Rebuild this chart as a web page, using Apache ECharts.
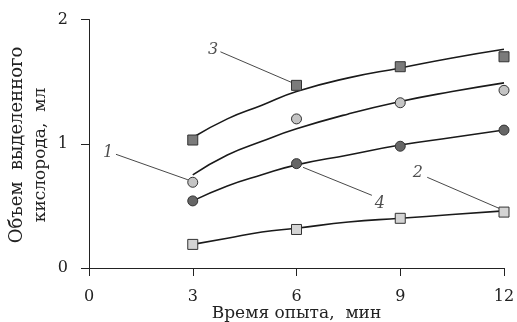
<!DOCTYPE html>
<html><head><meta charset="utf-8">
<script src="https://cdn.jsdelivr.net/npm/echarts@6/dist/echarts.min.js"></script>
<style>html,body{margin:0;padding:0;background:#fff}#c{width:517px;height:322px}</style>
</head><body><div id="c"></div>
<script>
// Measured points (time, min) and oxygen volumes (ml)
var times = [3, 6, 9, 12];
var s1Points = [0.69, 1.20, 1.33, 1.43];
var s2Points = [0.19, 0.31, 0.40, 0.45];
var s3Points = [1.03, 1.47, 1.62, 1.70];
var s4Points = [0.54, 0.84, 0.98, 1.11];
// Fitted curves
var curveX = [3, 4, 5, 6, 7.5, 9, 10.5, 12];
var c1 = [0.75, 0.91, 1.02, 1.12, 1.24, 1.34, 1.42, 1.49];
var c2 = [0.19, 0.24, 0.29, 0.32, 0.37, 0.40, 0.43, 0.46];
var c3 = [1.05, 1.20, 1.31, 1.42, 1.53, 1.61, 1.69, 1.76];
var c4 = [0.54, 0.66, 0.75, 0.83, 0.91, 0.99, 1.05, 1.11];
// Curve labels: name, label position, leader start, leader end (data coords)
var labelNames = ['1', '2', '3', '4'];
var labelPos = [[0.55, 0.93], [9.51, 0.765], [3.59, 1.755], [8.41, 0.52]];
var leaderFrom = [[0.78, 0.915], [9.78, 0.73], [3.80, 1.74], [6.19, 0.81]];
var leaderTo = [[2.86, 0.71], [11.86, 0.48], [5.93, 1.485], [8.18, 0.585]];
var xTicks = [0, 3, 6, 9, 12];
var yTicks = [0, 1, 2];

var FONT = 'DejaVu Serif';
function zip(xs, ys){ return xs.map(function(x,i){ return [x, ys[i]]; }); }
function curve(ys){
  return {type:'line', data: zip(curveX, ys), smooth: true, showSymbol:false, symbol:'none',
    lineStyle:{color:'#1a1a1a', width:1.6}, z:2, silent:true};
}
function pts(ys, sym, fill, size){
  return {type:'scatter', data: zip(times, ys), symbol: sym, symbolSize: size,
    itemStyle:{color: fill, borderColor:'#333', borderWidth:1, opacity:1}, z:5, silent:true};
}
var series = [curve(c1), curve(c2), curve(c3), curve(c4),
  pts(s3Points, 'rect', '#7b7b7b', 10),
  pts(s2Points, 'rect', '#d4d4d4', 10),
  pts(s1Points, 'circle', '#c4c4c4', 10),
  pts(s4Points, 'circle', '#666666', 10)];
labelNames.forEach(function(n, i){
  series.push({type:'line', data:[leaderFrom[i], leaderTo[i]], symbol:'none',
    lineStyle:{color:'#333', width:0.9}, z:3, silent:true});
});
series.push({type:'scatter', symbolSize:0, z:6, silent:true,
  data: labelNames.map(function(n,i){ return {name:n, value:labelPos[i]}; }),
  label:{show:true, position:'inside', formatter:'{b}', fontFamily:FONT, fontStyle:'italic',
    fontSize:16, color:'#222'}});

var chart = echarts.init(document.getElementById('c'), null, {renderer:'canvas'});
chart.setOption({
  animation:false,
  backgroundColor:'#fff',
  grid:{left:89, right:13, top:19.5, bottom:54, containLabel:false, outerBoundsMode:'none'},
  xAxis:{type:'value', min:xTicks[0], max:xTicks[xTicks.length-1], interval:3,
    name:'Время опыта,  мин', nameLocation:'middle', nameGap:37, nameMoveOverlap:false,
    nameTextStyle:{fontFamily:FONT, fontSize:17, color:'#222', verticalAlign:'top'},
    axisLine:{onZero:false, lineStyle:{color:'#222', width:1}},
    axisTick:{show:true, inside:false, length:8, lineStyle:{color:'#222'}},
    axisLabel:{margin:21, fontFamily:FONT, fontSize:16, color:'#222'},
    splitLine:{show:false}},
  yAxis:{type:'value', min:yTicks[0], max:yTicks[yTicks.length-1], interval:1,
    axisLine:{show:true, onZero:false, lineStyle:{color:'#222', width:1}},
    axisTick:{show:true, inside:false, length:8, lineStyle:{color:'#222'}},
    axisLabel:{margin:21, fontFamily:FONT, fontSize:16, color:'#222'},
    splitLine:{show:false}},
  graphic:[
    {type:'text', x:17, y:145, rotation:Math.PI/2,
      style:{text:'Объем  выделенного', font:'18px "DejaVu Serif"', fill:'#222', align:'center', verticalAlign:'middle'}},
    {type:'text', x:41, y:155, rotation:Math.PI/2,
      style:{text:'кислорода,  мл', font:'17px "DejaVu Serif"', fill:'#222', align:'center', verticalAlign:'middle'}}
  ],
  series: series
});
</script></body></html>
